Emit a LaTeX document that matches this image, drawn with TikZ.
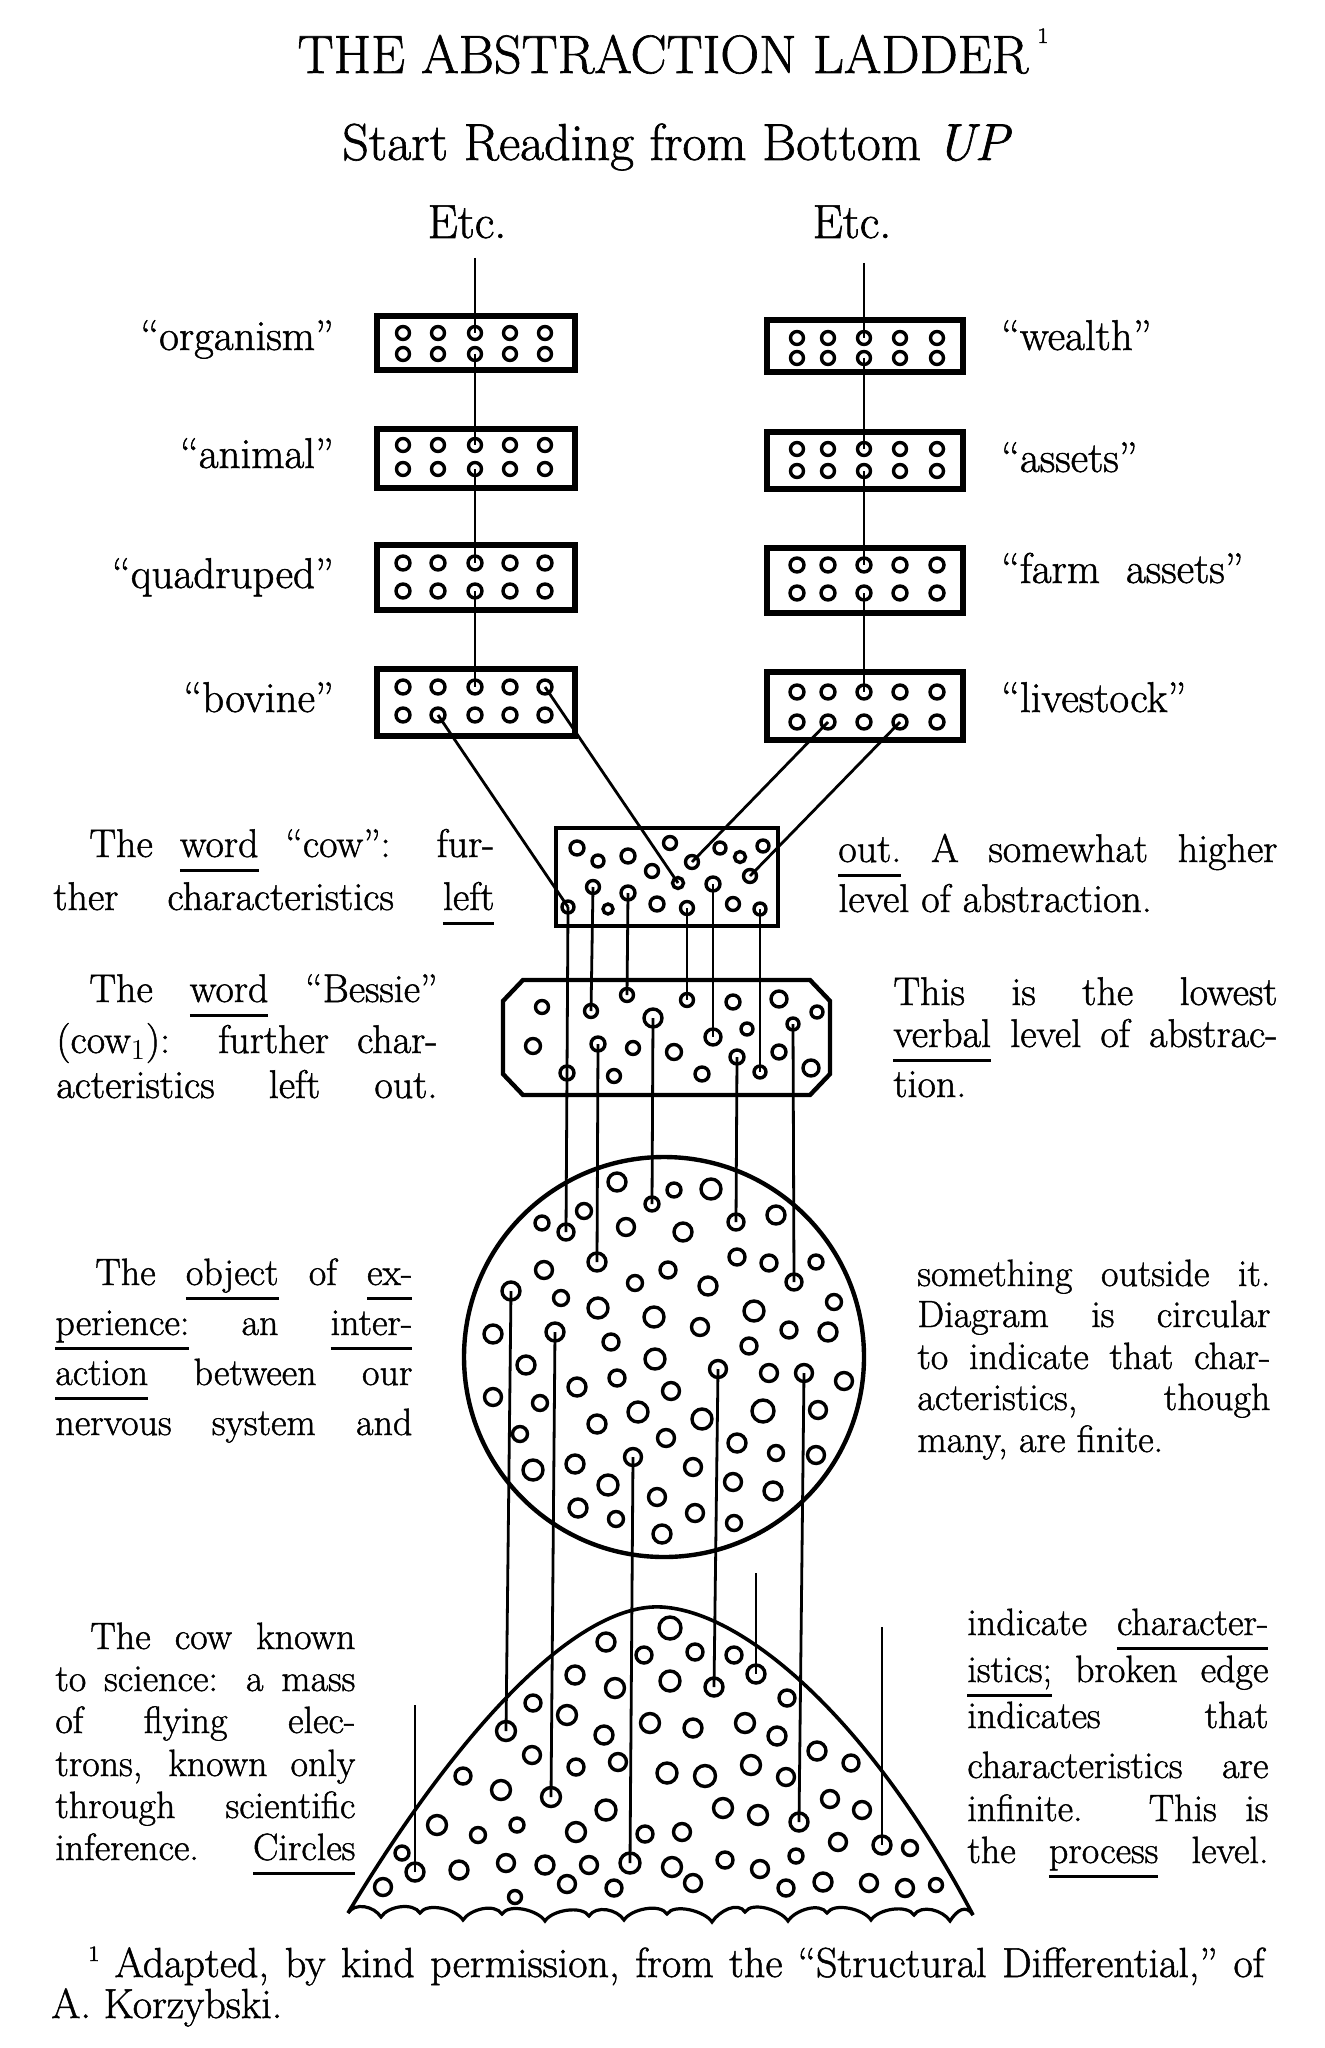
\documentclass[tikz,border=0pt]{standalone}
\usepackage{fontspec}
\setmainfont{Latin Modern Roman}[FakeBold=1.2]

\newlength\unitpx
\setlength\unitpx{0.5pt}

% underlined word, rule a little below the baseline
\newcommand\undl[1]{\setbox0=\hbox{#1}\rlap{\rule[-7.5pt]{\wd0}{1.5pt}}\box0\relax}

% one justified line of a paragraph
\newcommand\jline[5][body]{\node[#1] (#2) at (#3) {\makebox[#4\unitpx][s]{#5}};}

\tikzset{
  hole/.style={circle, draw, line width=1.7pt, inner sep=0pt, minimum size=#1pt},
  hole/.default=6,
  wire/.style={line width=1.4pt},
  plate/.style={line width=2.6pt},
  outline/.style={line width=2.2pt},
  body/.style={inner sep=0pt, anchor=base west, font=\fontsize{20}{24}\selectfont},
  lower/.style={body, font=\fontsize{19}{23}\selectfont},
  word/.style={inner sep=0pt, font=\fontsize{21.5}{25}\selectfont},
}

\begin{document}
\begin{tikzpicture}[x=0.5pt, y=-0.5pt]

  % the page
  \useasboundingbox (0,0) rectangle (1325,2048);

  % heading
  \node[anchor=base, inner sep=0pt, font=\fontsize{27}{32}\selectfont] (title) at (663,73)
    {THE ABSTRACTION LADDER\rlap{\,\raisebox{15pt}{\fontsize{11}{11}\selectfont 1}}};
  \node[anchor=base, inner sep=0pt, font=\fontsize{26}{30}\selectfont] (subtitle) at (677,160)
    {Start Reading from Bottom \textit{UP}};
  \node[anchor=base, inner sep=0pt, font=\fontsize{24}{28}\selectfont] (etcL) at (467,238) {Etc.};
  \node[anchor=base, inner sep=0pt, font=\fontsize{24}{28}\selectfont] (etcR) at (852,238) {Etc.};

  % the word ladders
  \foreach \ya/\yb/\ra/\rb/\sz/\n in {316/370/333/354/6.5/1, 429/488/445/469/6.5/2, 545/610/563/591/7/3, 669/736/687/715/7/4} {
    \draw[plate] (377,\ya) rectangle (575,\yb);
    \foreach \cx [count=\k] in {403,438,475,510,545} {
      \node[hole=\sz] (L\n-\k-a) at (\cx,\ra) {};
      \node[hole=\sz] (L\n-\k-b) at (\cx,\rb) {};
    }
  }
  \foreach \ya/\yb/\ra/\rb/\sz/\n in {320/372/338/358/6.5/1, 432/489/449/471/6.5/2, 548/613/565/593/7/3, 672/740/692/722/7/4} {
    \draw[plate] (767,\ya) rectangle (963,\yb);
    \foreach \cx [count=\k] in {797,828,864,900,937} {
      \node[hole=\sz] (R\n-\k-a) at (\cx,\ra) {};
      \node[hole=\sz] (R\n-\k-b) at (\cx,\rb) {};
    }
  }

  % ladder labels
  \node[word, anchor=base east] (organism) at (334,350) {“organism”};
  \node[word, anchor=base east] (animal) at (334,468) {“animal”};
  \node[word, anchor=base east] (quadruped) at (334,588) {“quadruped”};
  \node[word, anchor=base east] (bovine) at (334,712) {“bovine”};
  \node[word, anchor=base west] (wealth) at (1001,350) {“wealth”};
  \node[word, anchor=base west] (assets) at (1001,472) {“assets”};
  \node[word, anchor=base west] (farmassets) at (1001,583) {“farm~~assets”};
  \node[word, anchor=base west] (livestock) at (1001,712) {“livestock”};

  % the word "cow"
  \draw[outline] (556,828) rectangle (778,926);
  \foreach \x/\y/\sz [count=\k] in {577/848/7, 598/861/6, 628/856/7, 670/843/6.5, 652/871/6.5,
      692/862/6.5, 720/848/6, 740/857/5.5, 763/846/6, 750/876/6.5, 678/883/5.5, 593/887/6.5,
      628/893/7, 568/907/6, 608/909/5, 657/904/7, 687/908/6.5, 713/884/7, 733/904/6.5, 760/909/6}
    \node[hole=\sz] (cow\k) at (\x,\y) {};

  % the word "Bessie"
  \draw[outline] (523,980) -- (810,980) -- (830,1001) -- (830,1074) -- (810,1095)
    -- (523,1095) -- (503,1074) -- (503,1001) -- cycle;
  \foreach \x/\y/\sz [count=\k] in {542/1007/6.5, 591/1011/6.5, 627/995/6.5, 687/1000/6.5,
      733/1002/7, 779/999/8, 817/1012/6, 533/1046/7.5, 598/1044/7, 633/1048/6.5, 653/1018/9,
      674/1052/7.5, 713/1037/8, 747/1029/6, 793/1024/6, 779/1052/7, 567/1073/7, 614/1076/6.5,
      702/1074/7, 737/1057/7, 760/1072/6, 811/1068/8}
    \node[hole=\sz] (bes\k) at (\x,\y) {};

  % the object
  \node[circle, draw, outline, inner sep=0pt, minimum size=200pt] (object) at (664,1357) {};
  \foreach \x/\y/\sz [count=\k] in {617/1182/9, 674/1190/7, 711/1189/10, 652/1204/7, 584/1211/7.5,
      542/1223/7, 566/1232/8, 626/1227/8.5, 683/1232/9, 736/1222/8, 776/1215/9, 597/1262/9,
      544/1270/8.5, 668/1270/8, 737/1257/8, 769/1263/8, 816/1262/7, 511/1291/9, 561/1298/7.5,
      635/1283/7.5, 708/1286/9, 794/1282/8, 834/1302/7.5, 598/1308/10, 654/1317/10, 754/1311/10,
      493/1334/9, 555/1332/9, 611/1342/8, 700/1327/8.5, 789/1330/8, 828/1332/9, 749/1346/8,
      526/1365/9, 655/1359/10, 718/1369/8.5, 769/1373/8.5, 804/1373/8.5, 844/1381/8.5,
      493/1397/8.5, 577/1387/9, 617/1378/8, 671/1391/8.5, 540/1403/7.5, 638/1412/10, 702/1419/10,
      763/1411/11, 818/1410/8.5, 597/1424/9, 520/1434/7.5, 666/1438/8.5, 737/1443/9, 776/1453/7.5,
      816/1455/8.5, 633/1457/8.5, 533/1470/10, 575/1464/9, 693/1467/8.5, 608/1485/10, 733/1482/8.5,
      773/1491/9, 657/1497/8.5, 578/1508/9, 616/1519/7.5, 695/1513/8.5, 734/1523/7.5, 662/1534/9}
    \node[hole=\sz] (obj\k) at (\x,\y) {};

  % the event, with its broken edge
  \draw[outline, line width=1.8pt] (348,1913) .. controls (455,1735) and (575,1602) .. (662,1607)
    .. controls (745,1612) and (870,1720) .. (973,1915);
  \draw[outline, line width=1.6pt] (348,1913)
    \foreach \x/\y in {381/1917, 420/1913, 463/1920, 502/1914, 545/1921, 589/1916, 624/1920,
      667/1914, 712/1922, 745/1912, 788/1921, 827/1913, 871/1920, 914/1915, 950/1921, 973/1915}
    { .. controls +(7,-11) and +(-7,-11) .. (\x,\y) };
  \foreach \x/\y/\sz [count=\k] in {670/1628/11, 606/1642/9, 644/1655/8, 695/1652/8, 734/1655/8,
      756/1674/9, 575/1675/9, 615/1688/9.5, 670/1681/10, 714/1687/9, 533/1703/8, 567/1715/9.5,
      787/1698/8, 506/1731/9.5, 604/1735/9, 650/1723/9.5, 693/1728/9, 745/1723/9.5, 777/1736/9,
      817/1751/9, 532/1755/8.5, 576/1767/8, 618/1762/8.5, 667/1773/10, 705/1776/10.5, 751/1765/9.5,
      786/1777/8.5, 851/1763/8, 463/1776/8, 501/1790/9.5, 551/1797/9.5, 606/1810/10, 723/1808/9.5,
      758/1815/9.5, 830/1799/8.5, 862/1810/8.5, 437/1825/9.5, 478/1835/7.5, 517/1825/7, 576/1832/9.5,
      645/1834/8, 682/1832/8.5, 799/1822/9, 838/1842/8.5, 882/1845/9, 910/1848/7.5, 402/1853/7,
      415/1872/9, 459/1870/9, 506/1863/8.5, 545/1865/9, 589/1865/8.5, 630/1863/10, 672/1867/9.5,
      725/1860/8, 760/1869/8.5, 796/1856/7, 383/1887/8.5, 515/1897/6.5, 567/1884/8.5, 614/1888/8,
      693/1883/8.5, 786/1888/8, 823/1882/9, 869/1883/8.5, 905/1888/8.5, 936/1885/6.5}
    \node[hole=\sz] (mtn\k) at (\x,\y) {};

  % strings from level to level
  \coordinate (topL) at (475,258);
  \coordinate (topR) at (864,263);
  \draw[wire] (topL) -- (L1-3-a.center);
  \draw[wire] (topR) -- (R1-3-a.center);
  \foreach \i/\j in {1/2, 2/3, 3/4} {
    \draw[wire] (L\i-3-b.center) -- (L\j-3-a.center);
    \draw[wire] (R\i-3-b.center) -- (R\j-3-a.center);
  }
  \draw[wire] (L4-2-b.center) -- (cow14.center);
  \draw[wire] (L4-5-a.center) -- (cow11.center);
  \draw[wire] (R4-2-b.center) -- (cow6.center);
  \draw[wire] (R4-4-b.center) -- (cow10.center);
  \draw[wire] (cow12.center) -- (bes2.center);
  \draw[wire] (cow13.center) -- (bes3.center);
  \draw[wire] (cow17.center) -- (bes4.center);
  \draw[wire] (cow18.center) -- (bes13.center);
  \draw[wire] (cow20.center) -- (bes21.center);
  \draw[wire] (cow14.center) -- (bes17.center) -- (obj7.center);
  \draw[wire] (bes9.center) -- (obj12.center);
  \draw[wire] (bes11.center) -- (obj4.center);
  \draw[wire] (bes20.center) -- (obj10.center);
  \draw[wire] (bes15.center) -- (obj22.center);
  \draw[wire] (obj18.center) -- (mtn14.center);
  \draw[wire] (obj28.center) -- (mtn31.center);
  \draw[wire] (obj55.center) -- (mtn53.center);
  \draw[wire] (obj36.center) -- (mtn10.center);
  \draw[wire] (obj38.center) -- (mtn43.center);
  \coordinate (loose1) at (756,1573);
  \coordinate (loose2) at (882,1627);
  \coordinate (loose3) at (415,1705);
  \draw[wire] (loose1) -- (mtn6.center);
  \draw[wire] (loose2) -- (mtn45.center);
  \draw[wire] (loose3) -- (mtn48.center);

  % text beside the word "cow"
  \jline{cowA}{89,857}{405}{The \undl{word} “cow”: fur-}
  \jline{cowB}{53,910}{441}{ther characteristics \undl{left}}
  \jline{cowC}{838,862}{439}{\undl{out.} A somewhat higher}
  \node[body] (cowD) at (838,912) {level of abstraction.};

  % text beside the word "Bessie"
  \jline{besA}{89,1002}{348}{The \undl{word} “Bessie”}
  \jline{besB}{56,1053}{381}{(cow$_1$): further char-}
  \jline{besC}{56,1098}{381}{acteristics left out.}
  \jline{besD}{893,1005}{384}{This is the lowest}
  \jline{besE}{893,1047}{384}{\undl{verbal} level of abstrac-}
  \node[body] (besF) at (893,1097) {tion.};

  % text beside the object
  \jline[lower]{objA}{95,1285}{317}{The \undl{object} of \undl{ex-}}
  \jline[lower]{objB}{55,1335}{357}{\undl{perience:} an \undl{inter-}}
  \jline[lower]{objC}{55,1385}{357}{\undl{action} between our}
  \jline[lower]{objD}{55,1435}{357}{nervous system and}
  \jline[lower]{objE}{917,1286}{353}{something outside it.}
  \jline[lower]{objF}{917,1327}{353}{Diagram is circular}
  \jline[lower]{objG}{917,1369}{353}{to indicate that char-}
  \jline[lower]{objH}{917,1410}{353}{acteristics, though}
  \node[lower] (objI) at (917,1452) {many, are finite.};

  % text beside the event
  \jline[lower]{evA}{90,1649}{265}{The cow known}
  \jline[lower]{evB}{55,1691}{300}{to science: a mass}
  \jline[lower]{evC}{55,1733}{300}{of flying elec-}
  \jline[lower]{evD}{55,1776}{300}{trons, known only}
  \jline[lower]{evE}{55,1818}{300}{through scientific}
  \jline[lower]{evF}{55,1860}{300}{inference. \undl{Circles}}
  \jline[lower]{evG}{967,1635}{301}{indicate \undl{character-}}
  \jline[lower]{evH}{967,1682}{301}{\undl{istics;} broken edge}
  \jline[lower]{evI}{967,1728}{301}{indicates that}
  \jline[lower]{evJ}{967,1778}{301}{characteristics are}
  \jline[lower]{evK}{967,1821}{301}{infinite. This is}
  \jline[lower]{evL}{967,1863}{301}{the \undl{process} level.}

  % footnote
  \jline[body, font=\fontsize{21}{25}\selectfont]{noteA}{88,1977}{1176}{\raisebox{8pt}{\fontsize{11}{11}\selectfont 1} Adapted, by kind permission, from the “Structural Differential,” of}
  \node[body, font=\fontsize{21}{25}\selectfont] (noteB) at (51,2018) {A. Korzybski.};

\end{tikzpicture}
\end{document}
